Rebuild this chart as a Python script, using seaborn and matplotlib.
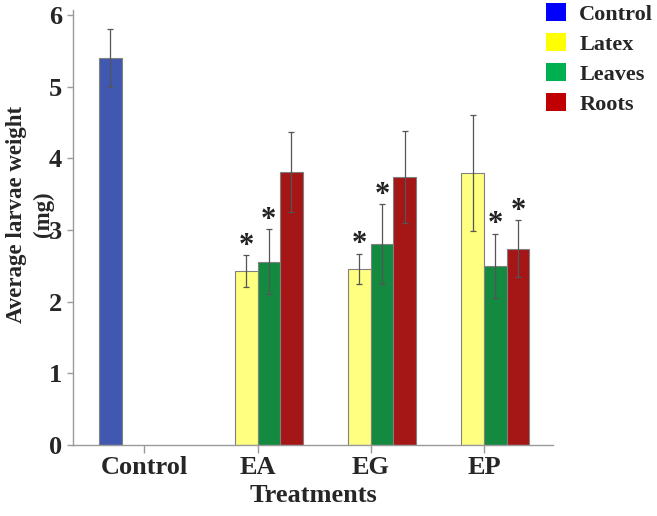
import matplotlib as mpl
mpl.use('Agg')
import matplotlib.pyplot as plt
from matplotlib.patches import Patch
import pandas as pd
import seaborn as sns

treatments = ['Control', 'EA', 'EA', 'EA', 'EG', 'EG', 'EG', 'EP', 'EP', 'EP']
parts = ['Control', 'Latex', 'Leaves', 'Roots', 'Latex', 'Leaves', 'Roots', 'Latex', 'Leaves', 'Roots']
weights = [5.40, 2.43, 2.56, 3.81, 2.46, 2.80, 3.74, 3.80, 2.50, 2.74]
errors = [0.40, 0.22, 0.45, 0.56, 0.21, 0.56, 0.64, 0.81, 0.45, 0.40]
starred = [False, True, True, False, True, True, False, False, True, True]

order = ['Control', 'EA', 'EG', 'EP']
hue_order = ['Control', 'Latex', 'Leaves', 'Roots']
bar_colors = {'Control': '#4058B0', 'Latex': '#FFFF80', 'Leaves': '#138A3F', 'Roots': '#A51616'}
legend_colors = ['#0000FF', '#FFFF00', '#00B050', '#C00000']

df = pd.DataFrame({'treatment': treatments, 'part': parts, 'weight': weights,
                   'err': errors, 'star': starred})

sns.set_style('white')
plt.rcParams['font.family'] = ['Liberation Serif', 'DejaVu Serif']
plt.rcParams['font.weight'] = 'bold'

fig = plt.figure(figsize=(6.57, 5.16), dpi=100)
ax = fig.add_axes([73 / 657, 1 - 445 / 516, (553 - 73) / 657, (445 - 10) / 516])

sns.barplot(data=df, x='treatment', y='weight', hue='part', order=order,
            hue_order=hue_order, palette=bar_colors, saturation=1, errorbar=None,
            width=0.8, edgecolor='#808080', linewidth=0.8, legend=False, ax=ax)

# error bars and significance stars, placed on the drawn bars
for part, cont in zip(hue_order, ax.containers):
    for bar in cont:
        if bar.get_height() == 0 or pd.isna(bar.get_height()):
            continue
        xc = bar.get_x() + bar.get_width() / 2
        cat = order[int(round(xc))]
        row = df[(df.treatment == cat) & (df.part == part)].iloc[0]
        ax.errorbar(xc, row.weight, yerr=row.err, fmt='none', ecolor='#555555',
                    elinewidth=0.9, capsize=2.5, capthick=0.9)
        if row.star:
            ax.text(xc, row.weight + row.err - 0.08, '*', ha='center', va='bottom',
                    fontsize=22, fontweight='bold', color='#222222')

ax.set_xlim(-0.63, 3.61)
ax.set_ylim(0, 6.07)
ax.set_yticks([0, 1, 2, 3, 4, 5, 6])
ax.set_xlabel('')
ax.set_ylabel('')
sns.despine(ax=ax)
for s in ['left', 'bottom']:
    ax.spines[s].set_color('#9a9a9a')
    ax.spines[s].set_linewidth(1)
ax.tick_params(axis='y', left=True, length=4, width=1, color='#9a9a9a', pad=4, labelsize=19)
ax.tick_params(axis='x', bottom=True, length=6, width=1, color='#9a9a9a', pad=2, labelsize=19)
for lab in ax.get_xticklabels() + ax.get_yticklabels():
    lab.set_fontweight('bold')

fig.text(30 / 657, 1 - 214 / 516, 'Average larvae weight\n(mg)', rotation=90,
         ha='center', va='center', multialignment='center', fontsize=16.5,
         fontweight='bold', linespacing=1.35)
fig.text(313 / 657, 1 - 495 / 516, 'Treatments', ha='center', va='center',
         fontsize=19, fontweight='bold')

handles = [Patch(facecolor=c, edgecolor='none') for c in legend_colors]
fig.legend(handles, hue_order, loc='upper left', bbox_to_anchor=(546 / 657, 1 - 3 / 516),
           frameon=False, borderpad=0, borderaxespad=0, handlelength=0.9,
           handleheight=0.9, handletextpad=0.6, labelspacing=0.36,
           prop={'size': 16, 'weight': 'bold'})

fig.savefig('out.png', dpi=100)
